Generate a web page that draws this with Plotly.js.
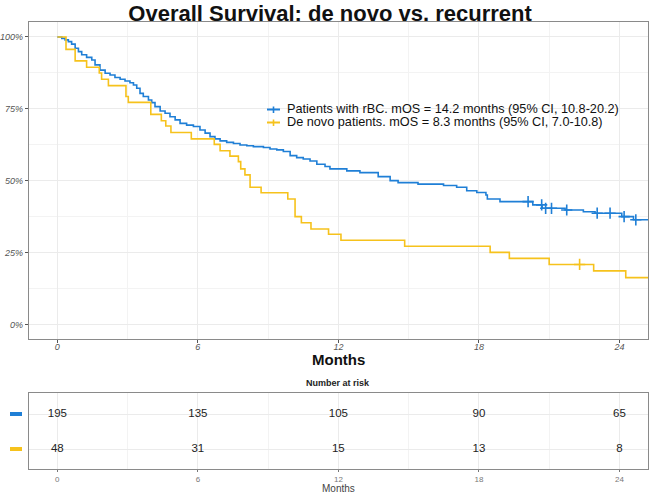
<!DOCTYPE html>
<html>
<head>
<meta charset="utf-8">
<script src="https://cdn.plot.ly/plotly-3.0.1.min.js"></script>
<style>html,body{margin:0;padding:0;background:#fff;}#chart{width:651px;height:495px;}</style>
</head>
<body>
<div id="chart"></div>
<script>
// ---- Data ----
const titleText = "Overall Survival: de novo vs. recurrent";
const seriesNames = [
  "Patients with rBC. mOS = 14.2 months (95% CI, 10.8-20.2)",
  "De novo patients. mOS = 8.3 months (95% CI, 7.0-10.8)"
];
// Recurrent (rBC) Kaplan-Meier steps: time (months) and survival after the step
const rbcTime = [0,0.19,0.33,0.47,0.61,0.76,0.90,1.04,1.25,1.47,1.61,1.82,2.04,2.25,2.46,2.68,2.89,3.10,3.25,3.39,3.53,3.67,3.89,4.03,4.17,4.39,4.60,4.81,5.03,5.24,5.52,5.81,6.09,6.31,6.52,6.73,6.95,7.23,7.52,7.80,8.09,8.37,8.80,9.08,9.37,9.65,9.94,10.22,10.50,10.79,11.08,11.43,11.64,12.36,12.92,13.70,14.21,14.55,15.40,16.49,17.05,17.48,17.91,18.30,18.36,18.90,20.30,20.70,21.68,22.46,22.96,24.10,24.60,25.4];
const rbcSurv = [1,0.995,0.990,0.984,0.975,0.961,0.949,0.938,0.929,0.920,0.903,0.885,0.874,0.868,0.859,0.853,0.847,0.841,0.833,0.822,0.804,0.793,0.781,0.772,0.758,0.743,0.735,0.723,0.712,0.700,0.694,0.689,0.677,0.666,0.654,0.646,0.639,0.634,0.630,0.625,0.622,0.619,0.616,0.611,0.608,0.602,0.588,0.581,0.576,0.569,0.558,0.550,0.542,0.535,0.529,0.515,0.501,0.494,0.489,0.484,0.478,0.466,0.460,0.451,0.437,0.428,0.417,0.405,0.399,0.393,0.388,0.376,0.365,0.365];
const rbcCensor = [20.1,20.68,20.85,21.1,21.75,23.05,23.6,24.2,24.7];
// De novo Kaplan-Meier steps
const dnTime = [0,0.37,0.76,1.25,1.79,1.89,2.18,2.93,3.03,3.99,4.44,4.63,4.85,5.72,6.70,6.95,7.37,7.73,7.83,8.01,8.23,8.70,9.84,10.15,10.42,10.83,11.58,12.11,14.83,18.48,19.30,21.00,22.90,24.27,25.4];
const dnSurv = [1,0.957,0.917,0.895,0.875,0.853,0.831,0.793,0.773,0.731,0.709,0.691,0.668,0.646,0.627,0.605,0.586,0.567,0.542,0.521,0.478,0.459,0.4375,0.376,0.355,0.333,0.315,0.294,0.273,0.252,0.231,0.210,0.1875,0.164,0.164];
const dnCensor = [22.3];
// Number at risk table
const riskTimes = [0,6,12,18,24];
const riskRbc = [195,135,105,90,65];
const riskDn = [48,31,15,13,8];
const xTicks = [0,6,12,18,24];

// ---- Styling ----
const BLUE = '#1f7fd6';
const YEL = '#f6c21c';
const FONT = 'Liberation Sans, Arial, sans-serif';
const W = 651, H = 495, ML = 29, MR = 3, MT = 22, MB = 26;
const PW = W - ML - MR, PH = H - MT - MB;
const px = v => (v - ML) / PW;
const py = v => (H - MB - v) / PH;

function survAt(times, surv, t) {
  let s = surv[0];
  for (let i = 0; i < times.length; i++) { if (times[i] <= t) s = surv[i]; }
  return s;
}

const traces = [
  {x: rbcTime, y: rbcSurv, type: 'scatter', mode: 'lines', line: {color: BLUE, width: 1.6, shape: 'hv'}, showlegend: false, xaxis: 'x', yaxis: 'y', hoverinfo: 'skip'},
  {x: dnTime, y: dnSurv, type: 'scatter', mode: 'lines', line: {color: YEL, width: 1.6, shape: 'hv'}, showlegend: false, xaxis: 'x', yaxis: 'y', hoverinfo: 'skip'},
  {x: rbcCensor, y: rbcCensor.map(t => survAt(rbcTime, rbcSurv, t)), type: 'scatter', mode: 'markers',
   marker: {symbol: 'cross-thin', size: 8, line: {color: BLUE, width: 1.6}}, showlegend: false, xaxis: 'x', yaxis: 'y', hoverinfo: 'skip'},
  {x: dnCensor, y: dnCensor.map(t => survAt(dnTime, dnSurv, t)), type: 'scatter', mode: 'markers',
   marker: {symbol: 'cross-thin', size: 8, line: {color: YEL, width: 1.6}}, showlegend: false, xaxis: 'x', yaxis: 'y', hoverinfo: 'skip'},
  {x: riskTimes, y: riskTimes.map(() => 2), text: riskRbc.map(String), type: 'scatter', mode: 'text',
   textfont: {family: FONT, size: 11.5, color: '#222'}, showlegend: false, xaxis: 'x2', yaxis: 'y2', hoverinfo: 'skip'},
  {x: riskTimes, y: riskTimes.map(() => 1), text: riskDn.map(String), type: 'scatter', mode: 'text',
   textfont: {family: FONT, size: 11.5, color: '#222'}, showlegend: false, xaxis: 'x2', yaxis: 'y2', hoverinfo: 'skip'}
];

const gridC = '#ebebeb', minorC = '#f3f3f3', lineC = '#8a8a8a';
const xRange = [-1.21, 25.22];
const mainTop = 1, mainBot = py(339);

const layout = {
  width: W, height: H,
  margin: {l: ML, r: MR, t: MT, b: MB, pad: 0},
  paper_bgcolor: '#fff', plot_bgcolor: '#fff',
  font: {family: FONT, color: '#333'},
  title: {text: '<b>' + titleText + '</b>', font: {family: FONT, size: 22, color: '#111'},
          x: 0.507, xref: 'container', xanchor: 'center', y: 1 - 13 / H, yref: 'container', yanchor: 'middle'},
  xaxis: {domain: [0, 1], anchor: 'y', range: xRange, tickmode: 'array', tickvals: xTicks, ticktext: xTicks.map(String),
          showgrid: true, gridcolor: gridC, gridwidth: 1, zeroline: false,
          minor: {dtick: 3, tick0: 0, showgrid: true, gridcolor: minorC, gridwidth: 1, ticks: ''},
          showline: true, linecolor: lineC, linewidth: 1.3, mirror: true,
          ticks: 'outside', ticklen: 3, tickcolor: '#555', tickwidth: 1, ticklabelstandoff: -4,
          tickfont: {family: FONT, size: 9, color: '#555', style: 'italic'}},
  yaxis: {domain: [mainBot, mainTop], anchor: 'x', range: [-0.049, 1.052], tickmode: 'array',
          tickvals: [0, 0.25, 0.5, 0.75, 1], ticktext: ['0%', '25%', '50%', '75%', '100%'],
          showgrid: true, gridcolor: gridC, zeroline: false,
          minor: {dtick: 0.125, tick0: 0, showgrid: true, gridcolor: minorC, ticks: ''},
          showline: true, linecolor: lineC, linewidth: 1.3, mirror: true,
          ticks: 'outside', ticklen: 3, tickcolor: '#555', tickwidth: 1,
          tickfont: {family: FONT, size: 9, color: '#555', style: 'italic'}},
  xaxis2: {domain: [0, 1], anchor: 'y2', range: xRange, tickmode: 'array', tickvals: xTicks, ticktext: xTicks.map(String),
           showgrid: true, gridcolor: gridC, zeroline: false,
           minor: {dtick: 3, tick0: 0, showgrid: true, gridcolor: minorC, ticks: ''},
           showline: true, linecolor: lineC, linewidth: 1.3, mirror: true,
           ticks: 'outside', ticklen: 2, tickcolor: '#777',
           tickfont: {family: FONT, size: 8, color: '#777'}},
  yaxis2: {domain: [0, py(393)], anchor: 'x2', range: [0.43, 2.6], tickmode: 'array', tickvals: [1, 2],
           showticklabels: false, showgrid: true, gridcolor: gridC, zeroline: false,
           showline: true, linecolor: lineC, linewidth: 1.3, mirror: true, ticks: ''},
  annotations: [
    {text: '<b>Months</b>', xref: 'paper', yref: 'paper', x: px(338), y: py(359.5), xanchor: 'center', yanchor: 'middle',
     showarrow: false, font: {family: FONT, size: 15, color: '#111'}},
    {text: '<b>Number at risk</b>', xref: 'paper', yref: 'paper', x: px(338), y: py(383), xanchor: 'center', yanchor: 'middle',
     showarrow: false, font: {family: FONT, size: 9, color: '#222'}},
    {text: 'Months', xref: 'paper', yref: 'paper', x: px(338), y: py(488), xanchor: 'center', yanchor: 'middle',
     showarrow: false, font: {family: FONT, size: 10, color: '#444'}},
    {text: seriesNames[0], xref: 'paper', yref: 'paper', x: px(285), y: py(109.5), xanchor: 'left', yanchor: 'middle',
     showarrow: false, font: {family: FONT, size: 12.7, color: '#111'}},
    {text: seriesNames[1], xref: 'paper', yref: 'paper', x: px(285), y: py(122.5), xanchor: 'left', yanchor: 'middle',
     showarrow: false, font: {family: FONT, size: 12.7, color: '#111'}}
  ],
  shapes: [
    // legend keys
    {type: 'line', xref: 'paper', yref: 'paper', x0: px(267), x1: px(280), y0: py(109.5), y1: py(109.5), line: {color: BLUE, width: 2}},
    {type: 'line', xref: 'paper', yref: 'paper', x0: px(273.5), x1: px(273.5), y0: py(106.5), y1: py(113), line: {color: BLUE, width: 1.6}},
    {type: 'line', xref: 'paper', yref: 'paper', x0: px(267), x1: px(280), y0: py(122.5), y1: py(122.5), line: {color: YEL, width: 2}},
    {type: 'line', xref: 'paper', yref: 'paper', x0: px(273.5), x1: px(273.5), y0: py(119.5), y1: py(126), line: {color: YEL, width: 1.6}},
    // risk table row keys
    {type: 'rect', xref: 'paper', yref: 'paper', x0: px(10), x1: px(22), y0: py(416), y1: py(412), fillcolor: BLUE, line: {width: 0}},
    {type: 'rect', xref: 'paper', yref: 'paper', x0: px(10), x1: px(22), y0: py(451), y1: py(447), fillcolor: YEL, line: {width: 0}}
  ]
};

Plotly.newPlot('chart', traces, layout, {staticPlot: true, displayModeBar: false});
</script>
</body>
</html>
